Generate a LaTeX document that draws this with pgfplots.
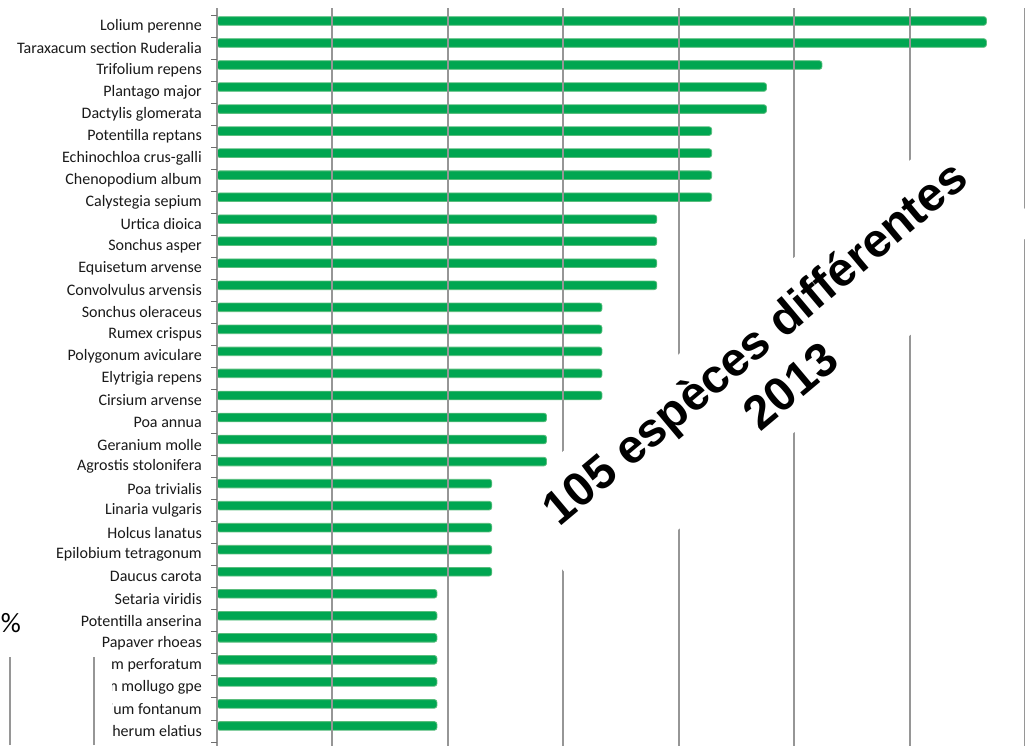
\documentclass[border=0pt]{standalone}
\usepackage{pgfplots}
\pgfplotsset{compat=1.18}
\usepackage{fontspec}
\setmainfont{Carlito}
\newfontfamily\titlefont{Liberation Sans}
\definecolor{barg}{RGB}{0,166,81}
\definecolor{baredge}{RGB}{90,190,125}
\definecolor{gridg}{RGB}{150,150,150}
\definecolor{tickg}{RGB}{110,110,110}
\begin{document}
\begin{tikzpicture}[x=1pt,y=1pt]
\useasboundingbox (0,0) rectangle (1025,745);
\clip (0,0) rectangle (1025,745);
\begin{axis}[
  at={(217pt,737pt)}, anchor=north west,
  x=57.72pt, y=22.03pt, y dir=reverse,
  xmin=0, xmax=14.5, ymin=-0.818, ymax=33.6,
  axis on top,
  axis lines*=left,
  axis line style={draw=none},
  xtick={0,2,...,14}, xticklabels={},
  xmajorgrids,
  major x grid style={gridg, line width=1.9pt},
  x tick style={draw=none},
  ytick={0,...,32},
  minor ytick={-0.5,0.5,...,33.5},
  tick align=outside,
  major tick length=0pt,
  minor tick length=6pt,
  y tick style={tickg, line width=0.9pt},
  yticklabel style={font=\fontsize{16}{18}\selectfont, anchor=east, inner sep=0pt, xshift=-15pt, text=black!90},
  yticklabels={Lolium perenne, Taraxacum section Ruderalia, Trifolium repens, Plantago major, Dactylis glomerata, Potentilla reptans, Echinochloa crus-galli, Chenopodium album, Calystegia sepium, Urtica dioica, Sonchus asper, Equisetum arvense, Convolvulus arvensis, Sonchus oleraceus, Rumex crispus, Polygonum aviculare, Elytrigia repens, Cirsium arvense, Poa annua, Geranium molle, Agrostis stolonifera, Poa trivialis, Linaria vulgaris, Holcus lanatus, Epilobium tetragonum, Daucus carota, Setaria viridis, Potentilla anserina, Papaver rhoeas, Hypericum perforatum, Galium mollugo gpe, Cerastium fontanum, Arrhenatherum elatius},
]
\addplot[xbar, bar width=0.39, bar shift=-0.23, fill=barg, draw=baredge, line width=0.8pt, rounded corners=2.5pt] table[x=v, y=i] {
i v
0 13.33
1 13.33
2 10.48
3 9.52
4 9.52
5 8.57
6 8.57
7 8.57
8 8.57
9 7.62
10 7.62
11 7.62
12 7.62
13 6.67
14 6.67
15 6.67
16 6.67
17 6.67
18 5.71
19 5.71
20 5.71
21 4.76
22 4.76
23 4.76
24 4.76
25 4.76
26 3.81
27 3.81
28 3.81
29 3.81
30 3.81
31 3.81
32 3.81
};
\end{axis}
\node[fill=white, rotate=40, minimum width=586pt, minimum height=134pt, align=center, inner sep=0pt,
  font=\titlefont\bfseries\fontsize{47.5}{56}\selectfont] at (772,381.5) {105 espèces différentes\\2013};
\fill[white] (0,0) rectangle (112,89);
\draw[gridg, line width=1.5pt] (10,0) -- (10,88);
\draw[gridg, line width=1.5pt] (94,0) -- (94,88);
\node[anchor=east, inner sep=0pt, font=\fontsize{28}{30}\selectfont] at (21,122) {\%};
\end{tikzpicture}
\end{document}
